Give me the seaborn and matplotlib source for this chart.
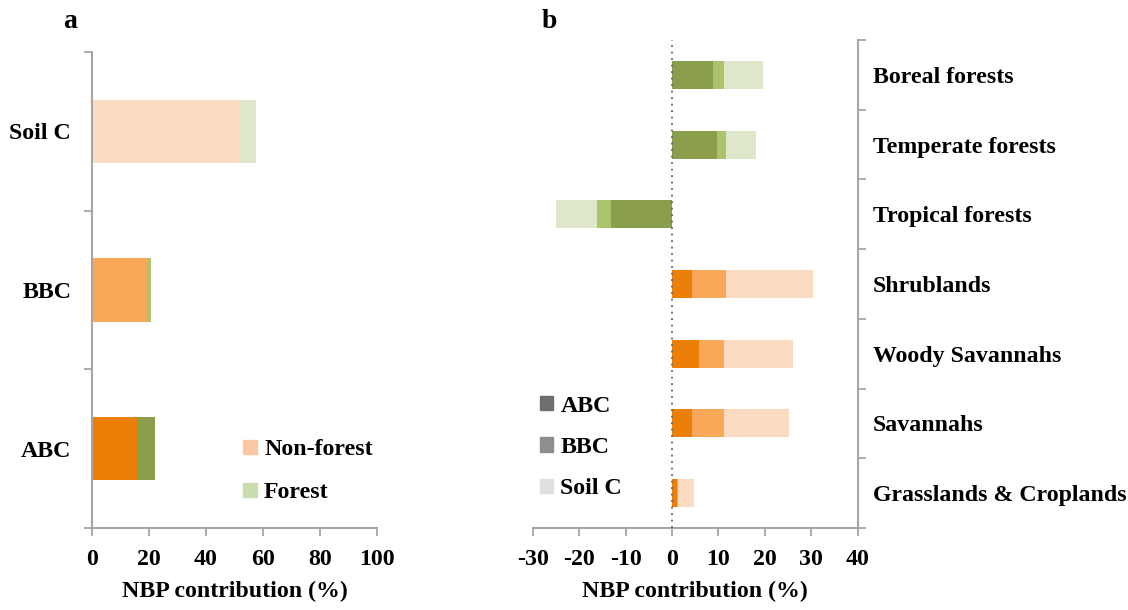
import numpy as np
import pandas as pd
import matplotlib
matplotlib.use("Agg")
import matplotlib.pyplot as plt
from matplotlib.patches import Patch
import seaborn as sns

# ---- data ----------------------------------------------------------------
pools = ["Soil C", "BBC", "ABC"]
pool_nonforest = [51.5, 19.3, 15.9]
pool_forest = [6.0, 1.3, 6.1]

biomes = ["Boreal forests", "Temperate forests", "Tropical forests", "Shrublands",
          "Woody Savannahs", "Savannahs", "Grasslands & Croplands"]
biome_abc = [8.9, 9.6, -13.1, 4.4, 5.9, 4.4, 1.1]
biome_bbc = [2.2, 2.1, -3.2, 7.3, 5.4, 6.9, 0.2]
biome_soil = [8.6, 6.3, -8.7, 18.8, 14.7, 14.0, 3.5]
biome_is_forest = [True, True, True, False, False, False, False]

x_ticks_a = [0, 20, 40, 60, 80, 100]
x_ticks_b = [-30, -20, -10, 0, 10, 20, 30, 40]

# ---- colours -------------------------------------------------------------
orange = {"ABC": "#EC7F08", "BBC": "#F9A85A", "Soil C": "#FCDCC0"}
green = {"ABC": "#8A9E4B", "BBC": "#ABC46C", "Soil C": "#DFE7CB"}
gray = {"ABC": "#6E6E6E", "BBC": "#8E8E8E", "Soil C": "#E0E0E0"}
spine_col = "#A6A6A6"

sns.set_theme(style="white")
plt.rcParams["font.family"] = ["Liberation Serif", "DejaVu Serif"]
plt.rcParams["font.weight"] = "bold"
plt.rcParams["text.color"] = "black"
plt.rcParams["xtick.labelcolor"] = "black"
plt.rcParams["ytick.labelcolor"] = "black"
plt.rcParams["axes.labelcolor"] = "black"
FS = 17.2

fig = plt.figure(figsize=(11.28, 6.10), dpi=100)
ax_a = fig.add_axes([92 / 1128, 1 - 528 / 610, (377 - 92) / 1128, (528 - 52) / 610])
ax_b = fig.add_axes([533 / 1128, 1 - 528 / 610, (857.5 - 533) / 1128, (528 - 40) / 610])


def style_x(ax, ticks):
    ax.set_xticks(ticks)
    ax.set_xticklabels([str(t) for t in ticks], fontsize=FS, fontweight="bold")
    ax.tick_params(axis="x", length=6, width=1.3, color=spine_col,
                   direction="out", pad=9, bottom=True)
    ax.set_xlabel("NBP contribution (%)", fontsize=FS, fontweight="bold", labelpad=8)
    ax.set_ylabel("")


# ---- panel a: stacked non-forest + forest per pool -----------------------
df_a = pd.DataFrame({"pool": pools,
                     "nonforest": pool_nonforest,
                     "forest": pool_forest})
df_a["total"] = df_a["nonforest"] + df_a["forest"]
sns.barplot(data=df_a, x="total", y="pool", hue="pool", orient="h",
            palette={p: green[p] for p in pools}, width=0.4,
            saturation=1, legend=False, ax=ax_a, linewidth=0)
sns.barplot(data=df_a, x="nonforest", y="pool", hue="pool", orient="h",
            palette={p: orange[p] for p in pools}, width=0.4,
            saturation=1, legend=False, ax=ax_a, linewidth=0)

ax_a.set_xlim(0, 100)
ax_a.set_ylim(len(pools) - 0.5, -0.5)
style_x(ax_a, x_ticks_a)
ax_a.set_yticks(np.arange(len(pools) + 1) - 0.5)
ax_a.set_yticklabels([])
ax_a.set_yticks(np.arange(len(pools)), minor=True)
ax_a.set_yticklabels(pools, minor=True, fontsize=FS, fontweight="bold")
ax_a.tick_params(axis="y", which="major", length=6, width=1.3, color=spine_col,
                 direction="out", left=True)
ax_a.tick_params(axis="y", which="minor", length=0, pad=15, left=True)
for side in ["top", "right"]:
    ax_a.spines[side].set_visible(False)
for side in ["left", "bottom"]:
    ax_a.spines[side].set_color(spine_col)
    ax_a.spines[side].set_linewidth(1.5)

ax_a.legend(handles=[Patch(color="#FAC9A4", label="Non-forest"),
                     Patch(color="#C9DCAE", label="Forest")],
            loc="lower left", bbox_to_anchor=(0.53, 0.052), frameon=False,
            borderpad=0, borderaxespad=0,
            prop={"size": FS, "weight": "bold"}, handlelength=0.58,
            handleheight=0.55, handletextpad=0.3, labelspacing=0.92)

# ---- panel b: stacked ABC / BBC / soil C per biome -----------------------
df_b = pd.DataFrame({"biome": biomes, "ABC": biome_abc,
                     "BBC": biome_bbc, "Soil C": biome_soil})
df_b["c1"] = df_b["ABC"]
df_b["c2"] = df_b["ABC"] + df_b["BBC"]
df_b["c3"] = df_b["c2"] + df_b["Soil C"]

for col, pool in [("c3", "Soil C"), ("c2", "BBC"), ("c1", "ABC")]:
    pal = {b: (green[pool] if f else orange[pool]) for b, f in zip(biomes, biome_is_forest)}
    sns.barplot(data=df_b, x=col, y="biome", hue="biome", orient="h",
                palette=pal, width=0.4, saturation=1, legend=False,
                ax=ax_b, linewidth=0)

ax_b.axvline(0, color="#606060", linestyle=(0, (1, 2.6)), linewidth=1.3, zorder=5)
ax_b.set_xlim(-30, 40)
ax_b.set_ylim(len(biomes) - 0.5, -0.5)
style_x(ax_b, x_ticks_b)
ax_b.yaxis.tick_right()
ax_b.set_yticks(np.arange(len(biomes) + 1) - 0.5)
ax_b.set_yticklabels([])
ax_b.set_yticks(np.arange(len(biomes)), minor=True)
ax_b.set_yticklabels(biomes, minor=True, fontsize=FS, fontweight="bold")
ax_b.tick_params(axis="y", which="major", length=6, width=1.3, color=spine_col,
                 direction="out", right=True, left=False)
ax_b.tick_params(axis="y", which="minor", length=0, pad=11, right=True, left=False,
                 labelright=True, labelleft=False)
for side in ["top", "left"]:
    ax_b.spines[side].set_visible(False)
for side in ["right", "bottom"]:
    ax_b.spines[side].set_color(spine_col)
    ax_b.spines[side].set_linewidth(1.5)

ax_b.legend(handles=[Patch(color=gray[k], label=k) for k in ["ABC", "BBC", "Soil C"]],
            loc="lower left", bbox_to_anchor=(0.022, 0.059), frameon=False,
            borderpad=0, borderaxespad=0,
            prop={"size": FS, "weight": "bold"}, handlelength=0.55,
            handleheight=0.55, handletextpad=0.3, labelspacing=0.85)

fig.text(70 / 1128, 1 - 21 / 610, "a", fontsize=20, fontweight="bold", ha="center", va="center")
fig.text(549 / 1128, 1 - 21 / 610, "b", fontsize=20, fontweight="bold", ha="center", va="center")

fig.savefig("out.png", dpi=100)
